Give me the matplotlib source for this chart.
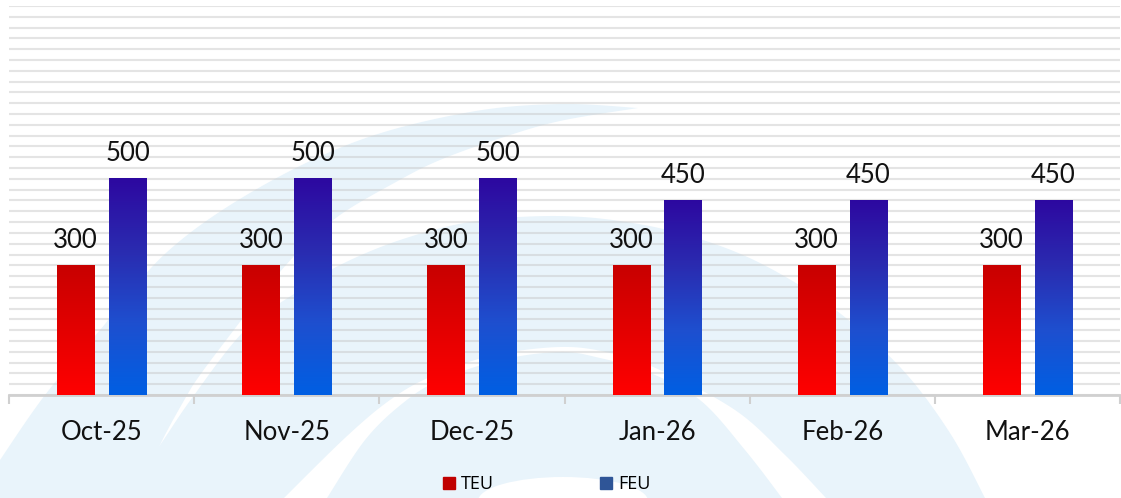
import numpy as np
import matplotlib
matplotlib.use("Agg")
import matplotlib.pyplot as plt
from matplotlib.patches import Polygon, Ellipse
from matplotlib.lines import Line2D
from matplotlib.colors import LinearSegmentedColormap

plt.rcParams["font.family"] = ["Lato", "DejaVu Sans"]

# data
months = ["Oct-25", "Nov-25", "Dec-25", "Jan-26", "Feb-26", "Mar-26"]
teu = [300, 300, 300, 300, 300, 300]
feu = [500, 500, 500, 450, 450, 450]

W, H = 1121, 498
wm_blue = "#e9f4fb"


def smooth(pts, n=14):
    # catmull-rom through the given outline points
    p = np.asarray(pts, float)
    p = np.vstack([p[0], p, p[-1]])
    out = []
    t = np.linspace(0, 1, n, endpoint=False)[:, None]
    for i in range(1, len(p) - 2):
        p0, p1, p2, p3 = p[i - 1], p[i], p[i + 1], p[i + 2]
        out.append(0.5 * (2 * p1 + (-p0 + p2) * t
                          + (2 * p0 - 5 * p1 + 4 * p2 - p3) * t ** 2
                          + (-p0 + 3 * p1 - 3 * p2 + p3) * t ** 3))
    out.append(p[-2][None])
    return np.vstack(out)


fig = plt.figure(figsize=(W / 100, H / 100), dpi=100)

# watermark in the background (pixel coords, y down)
bg = fig.add_axes([0, 0, 1, 1], zorder=0)
bg.set_xlim(0, W)
bg.set_ylim(H, 0)
bg.axis("off")

a_outer = smooth([(0, 460), (45, 395), (100, 330), (167, 252), (255, 190), (360, 140),
                  (470, 112), (560, 104), (638, 108)])
a_inner = smooth([(638, 108), (560, 121), (501, 138), (440, 160), (396, 182), (340, 215),
                  (300, 250), (265, 290), (230, 335), (200, 375), (186, 397), (160, 445), (138, 498)])
bg.add_patch(Polygon(np.vstack([a_outer, a_inner, [(0, 498)]]), closed=True,
                     facecolor=wm_blue, edgecolor="none"))

b_outer = smooth([(122, 498), (160, 445), (192, 398), (245, 330), (300, 290), (340, 265),
                  (400, 240), (470, 222), (550, 216), (620, 221), (690, 236), (760, 263),
                  (833, 308), (900, 367), (950, 433), (985, 498)])
bg.add_patch(Polygon(b_outer, closed=True, facecolor=wm_blue, edgecolor="none"))

s_outer = smooth([(284, 498), (346, 437), (390, 400), (430, 377), (490, 356), (560, 347),
                  (610, 353), (660, 370), (735, 410), (785, 455), (826, 498)])
s_inner = smooth([(782, 498), (745, 450), (700, 400), (648, 372), (600, 358), (560, 352),
                  (500, 360), (440, 380), (403, 403), (365, 440), (327, 498)])
bg.add_patch(Polygon(np.vstack([s_outer, s_inner]), closed=True,
                     facecolor="white", edgecolor="none"))
bg.add_patch(Ellipse((563, 501), 170, 48, facecolor="white", edgecolor="none"))

# chart
ax = fig.add_axes([9 / W, 103 / H, 1111 / W, 389 / H], zorder=1)
ax.patch.set_alpha(0)

x = np.arange(len(months))
bw = 0.2
teu_bars = ax.bar(x - 0.14, teu, bw, color="none", zorder=3)
feu_bars = ax.bar(x + 0.14, feu, bw, color="none", zorder=3)

teu_cmap = LinearSegmentedColormap.from_list("teu", ["#ff0000", "#c80000"])
feu_cmap = LinearSegmentedColormap.from_list("feu", ["#005fe3", "#1e4fcf", "#2a2bb0", "#2d08a0"])
grad = np.linspace(0, 1, 256).reshape(-1, 1)

for bars, cmap in [(teu_bars, teu_cmap), (feu_bars, feu_cmap)]:
    for b in bars:
        bx, bh = b.get_x(), b.get_height()
        ax.imshow(grad, extent=[bx, bx + b.get_width(), 0, bh], origin="lower",
                  aspect="auto", cmap=cmap, zorder=3, interpolation="bilinear")
        ax.annotate(f"{bh:.0f}", (bx + b.get_width() / 2, bh), xytext=(0, 9),
                    textcoords="offset points", ha="center", va="bottom",
                    fontsize=18.5, color="#111111")

ax.set_xlim(-0.5, len(months) - 0.5)
ax.set_ylim(0, 900)

ax.set_yticks(np.arange(0, 901, 25))
ax.yaxis.grid(True, color="#c4c4c4", alpha=0.45, lw=1.5)
ax.set_axisbelow(True)
ax.tick_params(axis="y", left=False, labelleft=False)

ax.set_xticks(x)
ax.set_xticklabels(months, fontsize=18.5, color="#111111")
ax.set_xticks(np.arange(-0.5, len(months), 1), minor=True)
ax.tick_params(axis="x", which="major", length=0, pad=18)
ax.tick_params(axis="x", which="minor", length=6.5, width=1.5, color="#d0d0d0")

for s in ["top", "right", "left"]:
    ax.spines[s].set_visible(False)
ax.spines["bottom"].set_color("#d0d0d0")
ax.spines["bottom"].set_linewidth(2)

handles = [Line2D([], [], marker="s", ls="", color="#c00000", markersize=8.5),
           Line2D([], [], marker="s", ls="", color="#2f5597", markersize=8.5)]
ax.legend(handles, ["TEU", "FEU"], loc="center", bbox_to_anchor=(546 / W, 1 - 484 / H),
          bbox_transform=fig.transFigure, ncol=2, frameon=False, handlelength=0.8,
          handletextpad=0.27, columnspacing=5.8,
          prop={"family": ["Open Sans", "DejaVu Sans"], "size": 13})

fig.savefig("out.png", dpi=100)
